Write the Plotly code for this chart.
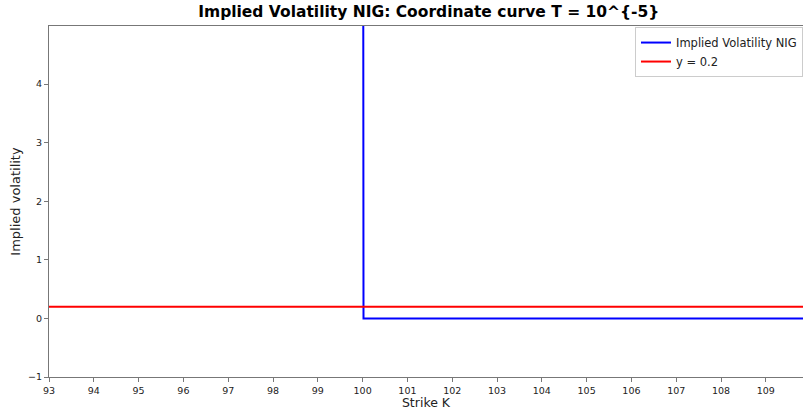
import plotly.graph_objects as go

# strike grid and implied vol (NIG, T = 1e-5)
strikes = [93.0, 99.99, 100.0, 100.02, 110.0]
impl_vol = [40.0, 40.0, 20.0, 0.0, 0.0]

ref_x = [93.0, 110.0]
ref_y = [0.2, 0.2]

x_ticks = list(range(93, 110))
y_ticks = [-1, 0, 1, 2, 3, 4]

fig = go.Figure()
fig.add_trace(go.Scatter(x=strikes, y=impl_vol, mode="lines", name="Implied Volatility NIG",
                         line=dict(color="blue", width=2)))
fig.add_trace(go.Scatter(x=ref_x, y=ref_y, mode="lines", name="y = 0.2",
                         line=dict(color="red", width=2)))

axis_style = dict(showline=True, linecolor="#777", linewidth=1.2, ticks="outside", ticklen=4,
                  tickcolor="#777", showgrid=False, zeroline=False,
                  tickfont=dict(size=9.5, color="#222"))

fig.update_layout(
    width=803, height=410,
    margin=dict(l=49, r=0, t=26, b=33),
    plot_bgcolor="white", paper_bgcolor="white",
    font=dict(family="DejaVu Sans", color="#222"),
    title=dict(text="<b>Implied Volatility NIG: Coordinate curve T = 10^{-5}</b>",
               x=0.534, xanchor="center", y=0.972, yanchor="middle",
               font=dict(size=15.5, color="black")),
    xaxis=dict(range=[93, 109.83], tickvals=x_ticks, mirror=True,
               title=dict(text="Strike K", font=dict(size=12.5), standoff=0), **axis_style),
    yaxis=dict(range=[-1, 4.99], tickvals=y_ticks,
               title=dict(text="Implied volatility", font=dict(size=13), standoff=4), **axis_style),
    legend=dict(x=1.0, y=0.997, xanchor="right", yanchor="top",
                bgcolor="rgba(255,255,255,0.8)", bordercolor="#ccc", borderwidth=1,
                font=dict(size=11.5), tracegroupgap=0),
    showlegend=True,
)

fig.write_html("out.html", config={"displayModeBar": False},
               post_script="document.body.style.margin='0';document.body.style.overflow='hidden';")
